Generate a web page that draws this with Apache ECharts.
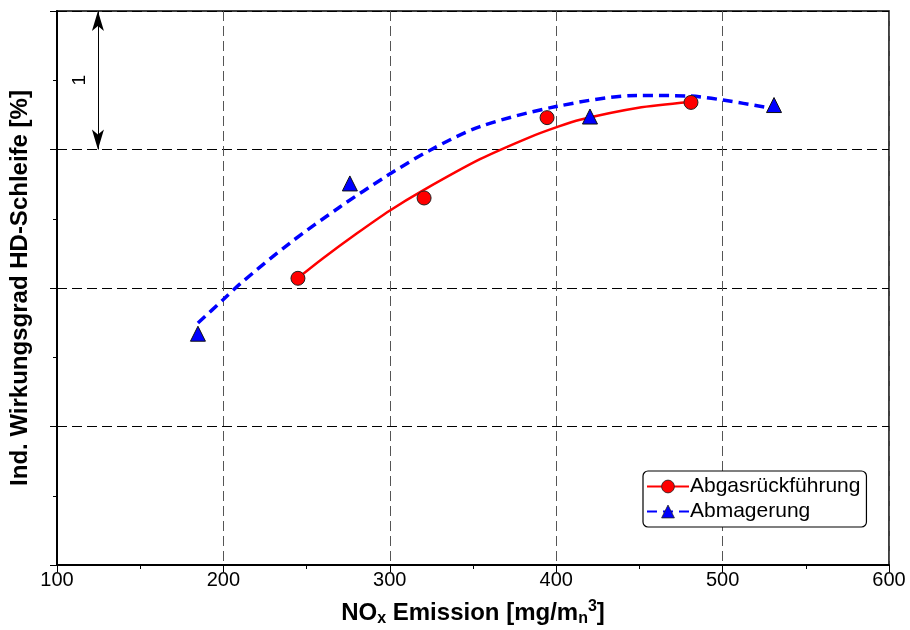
<!DOCTYPE html>
<html><head><meta charset="utf-8">
<script src="https://cdn.jsdelivr.net/npm/echarts@6/dist/echarts.min.js"></script>
<style>html,body{margin:0;padding:0;background:#fff}#c{width:910px;height:630px}</style>
</head><body><div id="c"></div>
<script>
// measured points
const agrX = [244.8, 320.6, 394.5, 481.0];
const agrY = [2.07, 2.65, 3.23, 3.34];
const abmX = [184.7, 276.0, 420.3, 530.9];
const abmY = [1.67, 2.755, 3.238, 3.321];
// fit curves
const agrFitX = [244.8, 259.9, 280.3, 300.1, 320.0, 354.2, 384.3, 399.9, 414.3, 448.6, 480.4];
const agrFitY = [2.072, 2.215, 2.395, 2.56, 2.705, 2.93, 3.09, 3.16, 3.215, 3.300, 3.343];
const abmFitX = [184.7, 199.8, 210.0, 240.0, 270.0, 298.3, 324.2, 354.2, 399.9, 448.6, 480.4, 500.2, 528.5];
const abmFitY = [1.747, 1.915, 2.03, 2.325, 2.585, 2.81, 2.995, 3.165, 3.31, 3.39, 3.386, 3.357, 3.300];
const xTicks = [100, 200, 300, 400, 500, 600];
const scaleArrow = { x: 124.6, from: 3, to: 4, label: '1', labelX: 113.8, labelY: 3.5 };
const names = ['Abgasrückführung', 'Abmagerung'];

const zip = (a, b) => a.map((v, i) => [v, b[i]]);
const font = 'Liberation Sans, Arial, sans-serif';

const chart = echarts.init(document.getElementById('c'), null, { renderer: 'canvas' });
chart.setOption({
  animation: false,
  backgroundColor: '#fff',
  grid: { left: 57, right: 21, top: 11, bottom: 65, outerBoundsMode: 'none', containLabel: false,
          show: true, borderColor: '#000', borderWidth: 1.5, backgroundColor: 'transparent' },
  xAxis: {
    type: 'value', min: xTicks[0], max: xTicks[xTicks.length - 1], interval: 100,
    axisLine: { onZero: false, lineStyle: { color: '#000', width: 2 } },
    axisTick: { length: 7, lineStyle: { color: '#000', width: 1 } },
    minorTick: { show: true, splitNumber: 2, length: 4, lineStyle: { color: '#000', width: 1 } },
    axisLabel: { color: '#000', fontSize: 20, fontFamily: font, margin: 5 },
    splitLine: { show: true, lineStyle: { color: '#555', type: [10, 5], width: 1 } },
    name: '{b|NO}{sub|x}{b| Emission [mg/m}{sub|n}{sup|3}{b|]}',
    nameLocation: 'middle', nameGap: 34,
    nameTextStyle: {
      rich: {
        b: { fontSize: 24, fontWeight: 'bold', fontFamily: font, color: '#000', lineHeight: 28, verticalAlign: 'middle' },
        sub: { fontSize: 16, fontWeight: 'bold', fontFamily: font, color: '#000', lineHeight: 16, verticalAlign: 'bottom', padding: [12, 0, 0, 0] },
        sup: { fontSize: 16, fontWeight: 'bold', fontFamily: font, color: '#000', lineHeight: 16, verticalAlign: 'top', padding: [0, 0, 10, 0] }
      }
    }
  },
  yAxis: {
    type: 'value', min: 0, max: 4, interval: 1,
    axisLine: { show: true, onZero: false, lineStyle: { color: '#000', width: 2 } },
    axisTick: { show: true, length: 7, lineStyle: { color: '#000', width: 1 } },
    minorTick: { show: true, splitNumber: 2, length: 4, lineStyle: { color: '#000', width: 1 } },
    axisLabel: { show: false },
    splitLine: { show: true, lineStyle: { color: '#000', type: [10, 5], width: 1 } },
    name: 'Ind. Wirkungsgrad HD-Schleife [%]',
    nameLocation: 'middle', nameGap: 25, nameRotate: 90,
    nameTextStyle: { fontSize: 24, fontWeight: 'bold', fontFamily: font, color: '#000' }
  },
  legend: {
    data: names, orient: 'vertical', left: 643, top: 471,
    backgroundColor: '#fff', borderColor: '#000', borderWidth: 1.2, borderRadius: 5,
    padding: [5, 6, 5, 3], itemGap: 4, itemWidth: 42, itemHeight: 16,
    itemStyle: { borderWidth: 0.8, borderColor: '#222' },
    textStyle: { fontSize: 21, fontFamily: font, color: '#000', padding: [0, 0, 0, -4] }
  },
  series: [
    {
      name: names[0], type: 'line', data: zip(agrFitX, agrFitY), smooth: 0.3,
      symbol: 'circle', symbolSize: 13, showSymbol: false,
      lineStyle: { color: '#ff0000', width: 2.5 },
      itemStyle: { color: '#ff0000', borderColor: '#222', borderWidth: 1 },
      z: 3
    },
    {
      name: names[1], type: 'line', data: zip(abmFitX, abmFitY), smooth: 0.3,
      symbol: 'triangle', symbolSize: 14, showSymbol: false,
      lineStyle: { color: '#0000ff', width: 3.5, type: [10, 6] },
      itemStyle: { color: '#0000ff', borderColor: '#222', borderWidth: 1 },
      z: 3,
      markLine: {
        silent: true, symbol: ['arrow', 'arrow'], symbolSize: [9, 20],
        lineStyle: { color: '#000', width: 1, type: 'solid' },
        label: { show: false },
        data: [[{ coord: [scaleArrow.x, scaleArrow.from] }, { coord: [scaleArrow.x, scaleArrow.to] }]]
      },
      markPoint: {
        silent: true, symbol: 'circle', symbolSize: 1,
        itemStyle: { color: 'rgba(0,0,0,0)', borderWidth: 0 },
        label: { show: true, position: 'inside', formatter: scaleArrow.label, rotate: 90, fontSize: 19, fontFamily: font, color: '#000' },
        data: [{ coord: [scaleArrow.labelX, scaleArrow.labelY] }]
      }
    },
    {
      name: 'agrPts', type: 'scatter', data: zip(agrX, agrY), symbol: 'circle', symbolSize: 14,
      itemStyle: { color: '#ff0000', borderColor: '#222', borderWidth: 1, opacity: 1 }, z: 5
    },
    {
      name: 'abmPts', type: 'scatter', data: zip(abmX, abmY), symbol: 'triangle', symbolSize: 15,
      itemStyle: { color: '#0000ff', borderColor: '#111', borderWidth: 1, opacity: 1 }, z: 5
    }
  ]
});
</script></body></html>
